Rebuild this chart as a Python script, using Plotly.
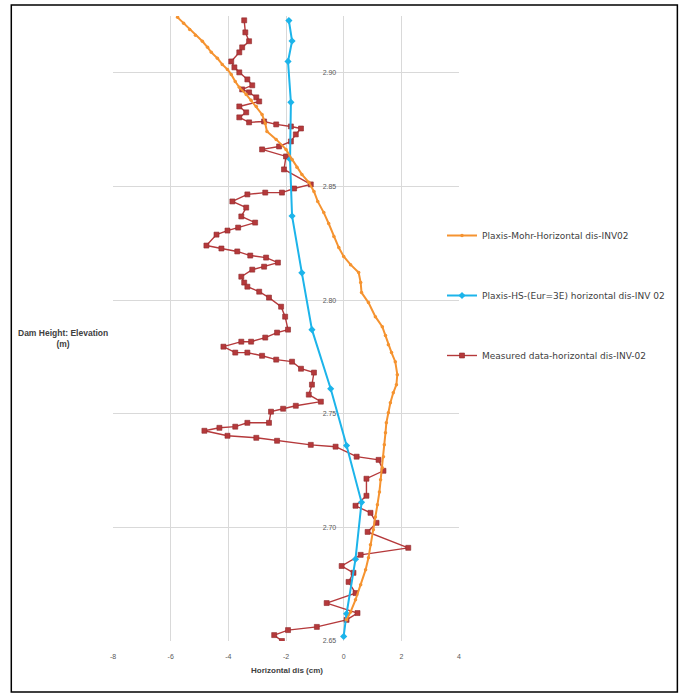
import plotly.graph_objects as go

# ---- data (horizontal displacement in cm, elevation in m) ----
mohr_x = [-5.76, -5.55, -5.34, -5.14, -4.90, -4.72, -4.59, -4.38, -4.21, -4.03, -3.90, -3.76,
          -3.62, -3.38, -3.21, -3.03, -2.83, -2.72, -2.66, -2.34, -2.00, -1.79, -1.62, -1.45,
          -1.21, -1.03, -0.90, -0.69, -0.52, -0.34, -0.17, 0.00, 0.24, 0.52, 0.59, 0.62, 0.86,
          1.10, 1.34, 1.45, 1.55, 1.66, 1.79, 1.86, 1.83, 1.72, 1.62, 1.55, 1.48, 1.45, 1.41,
          1.38, 1.34, 1.28, 1.24, 1.17, 1.10, 1.03, 0.93, 0.86, 0.76, 0.59, 0.41, 0.24, 0.10]
mohr_y = [2.9244, 2.9218, 2.9191, 2.9165, 2.9139, 2.9112, 2.9090, 2.9064, 2.9037, 2.9015, 2.8993,
          2.8962, 2.8936, 2.8905, 2.8879, 2.8852, 2.8817, 2.8777, 2.8742, 2.8707, 2.8663, 2.8619,
          2.8584, 2.8553, 2.8518, 2.8478, 2.8434, 2.8385, 2.8337, 2.8280, 2.8231, 2.8192, 2.8156,
          2.8121, 2.8077, 2.8033, 2.7989, 2.7927, 2.7883, 2.7844, 2.7804, 2.7769, 2.7729, 2.7672,
          2.7628, 2.7592, 2.7548, 2.7504, 2.7460, 2.7416, 2.7363, 2.7311, 2.7262, 2.7209, 2.7156,
          2.7099, 2.7046, 2.6989, 2.6923, 2.6866, 2.6813, 2.6747, 2.6681, 2.6628, 2.6593]

hs_x = [-1.90, -1.79, -1.93, -1.83, -1.86, -1.79, -1.45, -1.10, -0.45, 0.10, 0.62, 0.41, 0.10, 0.00]
hs_y = [2.923, 2.914, 2.905, 2.887, 2.862, 2.837, 2.812, 2.787, 2.761, 2.736, 2.711, 2.686, 2.662, 2.652]

meas_x = [-3.45, -3.41, -3.28, -3.52, -3.62, -3.90, -3.79, -3.62, -3.34, -3.17, -3.52, -3.28,
          -3.03, -2.93, -3.62, -3.38, -3.62, -3.28, -2.76, -2.34, -1.83, -1.48, -1.66, -1.83,
          -2.24, -2.83, -2.00, -2.07, -1.14, -1.72, -2.14, -2.72, -3.34, -3.86, -3.38, -3.55,
          -3.07, -3.66, -4.03, -4.41, -4.76, -4.24, -3.69, -3.24, -2.69, -2.28, -2.76, -3.17,
          -3.55, -3.45, -3.34, -2.93, -2.59, -2.17, -2.03, -1.93, -2.31, -2.72, -3.21, -3.55,
          -4.17, -3.76, -3.34, -2.83, -2.34, -1.79, -1.48, -1.03, -1.10, -1.21, -0.79, -1.66,
          -2.10, -2.52, -2.59, -3.34, -3.76, -4.31, -4.83, -4.03, -3.03, -2.31, -1.14, -0.28,
          0.45, 1.21, 1.38, 0.79, 0.79, 0.41, 0.93, 1.14, 0.83, 2.24, 0.59, -0.07, 0.34, 0.17,
          0.41, -0.59, 0.48, 0.10, -0.93, -1.93, -2.41, -2.14]
meas_y = [2.9231, 2.9178, 2.9139, 2.9112, 2.9090, 2.9050, 2.9024, 2.9002, 2.8971, 2.8945, 2.8927,
          2.8914, 2.8892, 2.8874, 2.8852, 2.8826, 2.8804, 2.8782, 2.8786, 2.8773, 2.8764, 2.8755,
          2.8729, 2.8698, 2.8676, 2.8663, 2.8632, 2.8575, 2.8509, 2.8491, 2.8473, 2.8473, 2.8465,
          2.8434, 2.8407, 2.8368, 2.8341, 2.8319, 2.8306, 2.8288, 2.8240, 2.8227, 2.8214, 2.8196,
          2.8187, 2.8165, 2.8147, 2.8134, 2.8103, 2.8077, 2.8059, 2.8037, 2.8011, 2.7971, 2.7927,
          2.7870, 2.7857, 2.7835, 2.7817, 2.7817, 2.7795, 2.7769, 2.7769, 2.7755, 2.7738, 2.7729,
          2.7698, 2.7681, 2.7628, 2.7584, 2.7553, 2.7535, 2.7522, 2.7509, 2.7460, 2.7460, 2.7443,
          2.7438, 2.7425, 2.7403, 2.7394, 2.7381, 2.7363, 2.7355, 2.7311, 2.7297, 2.7249, 2.7214,
          2.7139, 2.7095, 2.7064, 2.7020, 2.6980, 2.6910, 2.6879, 2.6830, 2.6800, 2.6760, 2.6711,
          2.6667, 2.6623, 2.6593, 2.6562, 2.6548, 2.6526, 2.6500]

x_ticks = [-8, -6, -4, -2, 0, 2, 4]
y_ticks = [2.65, 2.70, 2.75, 2.80, 2.85, 2.90]
y_tick_text = ["2.65", "2.70", "2.75", "2.80", "2.85", "2.90"]

names = ["Plaxis-Mohr-Horizontal dis-INV02",
         "Plaxis-HS-(Eur=3E) horizontal dis-INV 02",
         "Measured data-horizontal dis-INV-02"]

fig = go.Figure()
fig.add_trace(go.Scatter(x=meas_x, y=meas_y, mode="lines+markers", name=names[2],
                         legendgroup="c", legendrank=3,
                         line=dict(color="#B5393B", width=1.4),
                         marker=dict(symbol="square", size=5, color="#B5393B",
                                     line=dict(color="#8E2A2C", width=0.6))))
fig.add_trace(go.Scatter(x=hs_x, y=hs_y, mode="lines+markers", name=names[1],
                         legendgroup="b", legendrank=2,
                         line=dict(color="#1CB4EA", width=2),
                         marker=dict(symbol="diamond", size=5.5, color="#1CB4EA")))
fig.add_trace(go.Scatter(x=mohr_x, y=mohr_y, mode="lines+markers", name=names[0],
                         legendgroup="a", legendrank=1,
                         line=dict(color="#F59330", width=2),
                         marker=dict(symbol="circle", size=3.5, color="#F59330")))

L, R, T, B = 113, 221, 16, 57
W, H = 681, 698
pw, ph = W - L - R, H - T - B

def px(xp):
    return (xp - L) / pw

def py(yp):
    return (H - B - yp) / ph

fig.update_layout(
    width=W, height=H,
    margin=dict(l=L, r=R, t=T, b=B, pad=0),
    paper_bgcolor="white", plot_bgcolor="white",
    font=dict(family="Liberation Sans, Arial, sans-serif", size=7, color="#595959"),
    showlegend=True,
    legend=dict(x=px(442), y=py(221), xanchor="left", yanchor="top",
                font=dict(family="DejaVu Sans, sans-serif", size=9, color="#404040"),
                bgcolor="rgba(0,0,0,0)", tracegroupgap=41, itemwidth=30),
    xaxis=dict(range=[-8, 4], tickvals=x_ticks, ticktext=[str(v) for v in x_ticks],
               showgrid=True, gridcolor="#D9D9D9", gridwidth=1, zeroline=False,
               showline=False, ticks="outside", ticklen=9, tickcolor="rgba(0,0,0,0)",
               tickfont=dict(size=7, color="#595959")),
    yaxis=dict(range=[2.65, 2.925], tickvals=y_ticks, ticktext=y_tick_text,
               anchor="free", position=8 / 12, side="left",
               showgrid=True, gridcolor="#D9D9D9", gridwidth=1, zeroline=False,
               showline=False, ticks="outside", ticklen=6, tickcolor="rgba(0,0,0,0)",
               tickfont=dict(size=7, color="#595959")),
    annotations=[
        dict(text="<b>Horizontal dis (cm)</b>", x=px(288), y=py(670), xref="paper", yref="paper",
             xanchor="center", yanchor="middle",
             showarrow=False, font=dict(size=8, color="#404040")),
        dict(text="<b>Dam Height: Elevation<br>(m)</b>", x=px(63), y=py(338), xref="paper",
             yref="paper", xanchor="center", yanchor="middle",
             showarrow=False, align="center", font=dict(size=8.5, color="#404040")),
    ],
    shapes=[dict(type="rect", xref="paper", yref="paper", x0=px(11), x1=px(679),
                 y0=py(692), y1=py(5), line=dict(color="black", width=1.5),
                 fillcolor="rgba(0,0,0,0)", layer="above")],
)

fig.write_html("out.html", config={"displayModeBar": False},
               post_script="document.body.style.margin='0';document.body.style.overflow='hidden';")
